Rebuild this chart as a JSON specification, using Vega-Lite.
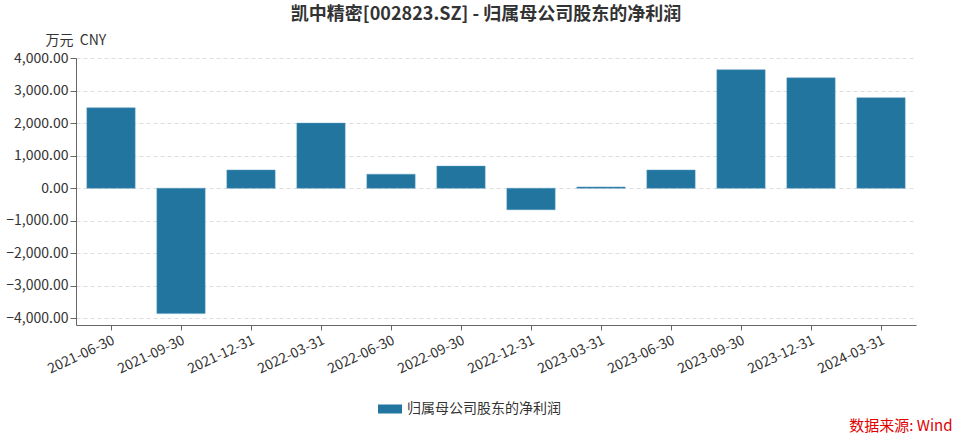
{
  "$schema": "https://vega.github.io/schema/vega-lite/v6.json",
  "autosize": {"type": "none"},
  "width": 840,
  "height": 267,
  "padding": {"left": 76, "top": 58, "right": 41, "bottom": 110},
  "background": "white",
  "title": {
    "text": "凯中精密[002823.SZ] - 归属母公司股东的净利润",
    "anchor": "middle",
    "dx": -10,
    "offset": 9,
    "fontSize": 18,
    "fontWeight": "bold",
    "color": "#333333",
    "font": "Noto Sans CJK SC"
  },
  "config": {
    "view": {"stroke": null},
    "font": "Noto Sans CJK SC"
  },
  "data": {
    "values": [
      {"date": "2021-06-30", "series": "归属母公司股东的净利润", "value": 2470},
      {"date": "2021-09-30", "series": "归属母公司股东的净利润", "value": -3850},
      {"date": "2021-12-31", "series": "归属母公司股东的净利润", "value": 560},
      {"date": "2022-03-31", "series": "归属母公司股东的净利润", "value": 2000},
      {"date": "2022-06-30", "series": "归属母公司股东的净利润", "value": 430},
      {"date": "2022-09-30", "series": "归属母公司股东的净利润", "value": 680},
      {"date": "2022-12-31", "series": "归属母公司股东的净利润", "value": -660},
      {"date": "2023-03-31", "series": "归属母公司股东的净利润", "value": 40},
      {"date": "2023-06-30", "series": "归属母公司股东的净利润", "value": 560},
      {"date": "2023-09-30", "series": "归属母公司股东的净利润", "value": 3640},
      {"date": "2023-12-31", "series": "归属母公司股东的净利润", "value": 3390},
      {"date": "2024-03-31", "series": "归属母公司股东的净利润", "value": 2780}
    ]
  },
  "mark": {"type": "bar", "stroke": "#5a9cc0", "strokeWidth": 0.5},
  "encoding": {
    "x": {
      "field": "date",
      "type": "ordinal",
      "sort": null,
      "scale": {"paddingInner": 0.31, "paddingOuter": 0.155},
      "axis": {
        "title": "数据来源: Wind",
        "titleColor": "#e00000",
        "titleFontSize": 15,
        "titleFontWeight": "normal",
        "titleAnchor": "end",
        "titleAlign": "right",
        "titleX": 876,
        "titleY": 100,
        "titleBaseline": "middle",
        "labelAngle": -25,
        "labelAlign": "right",
        "labelBaseline": "top",
        "labelPadding": 3,
        "labelFontSize": 14,
        "labelColor": "#333333",
        "tickColor": "#666666",
        "tickSize": 5,
        "domainColor": "#666666",
        "grid": false
      }
    },
    "y": {
      "field": "value",
      "type": "quantitative",
      "scale": {"domain": [-4200, 4000], "nice": false, "zero": false},
      "axis": {
        "values": [-4000, -3000, -2000, -1000, 0, 1000, 2000, 3000, 4000],
        "format": ",.2f",
        "title": "万元\u00a0\u00a0CNY",
        "titleAngle": 0,
        "titleX": -31,
        "titleY": -18,
        "titleAlign": "left",
        "titleBaseline": "middle",
        "titleFontSize": 14,
        "titleFontWeight": "normal",
        "titleColor": "#333333",
        "labelFontSize": 14,
        "labelColor": "#333333",
        "labelPadding": 2,
        "tickColor": "#666666",
        "tickSize": 6,
        "domainColor": "#666666",
        "grid": true,
        "gridColor": "#dddddd",
        "gridDash": [4, 3]
      }
    },
    "color": {
      "field": "series",
      "type": "nominal",
      "scale": {"range": ["#21759f"]},
      "legend": {
        "orient": "none",
        "legendX": 307,
        "legendY": 344,
        "title": null,
        "padding": 0,
        "symbolType": "M-2,-0.75H2V0.75H-2Z",
        "symbolSize": 144,
        "symbolStrokeWidth": 0,
        "labelFontSize": 14,
        "labelColor": "#333333",
        "labelOffset": 10
      }
    }
  }
}
